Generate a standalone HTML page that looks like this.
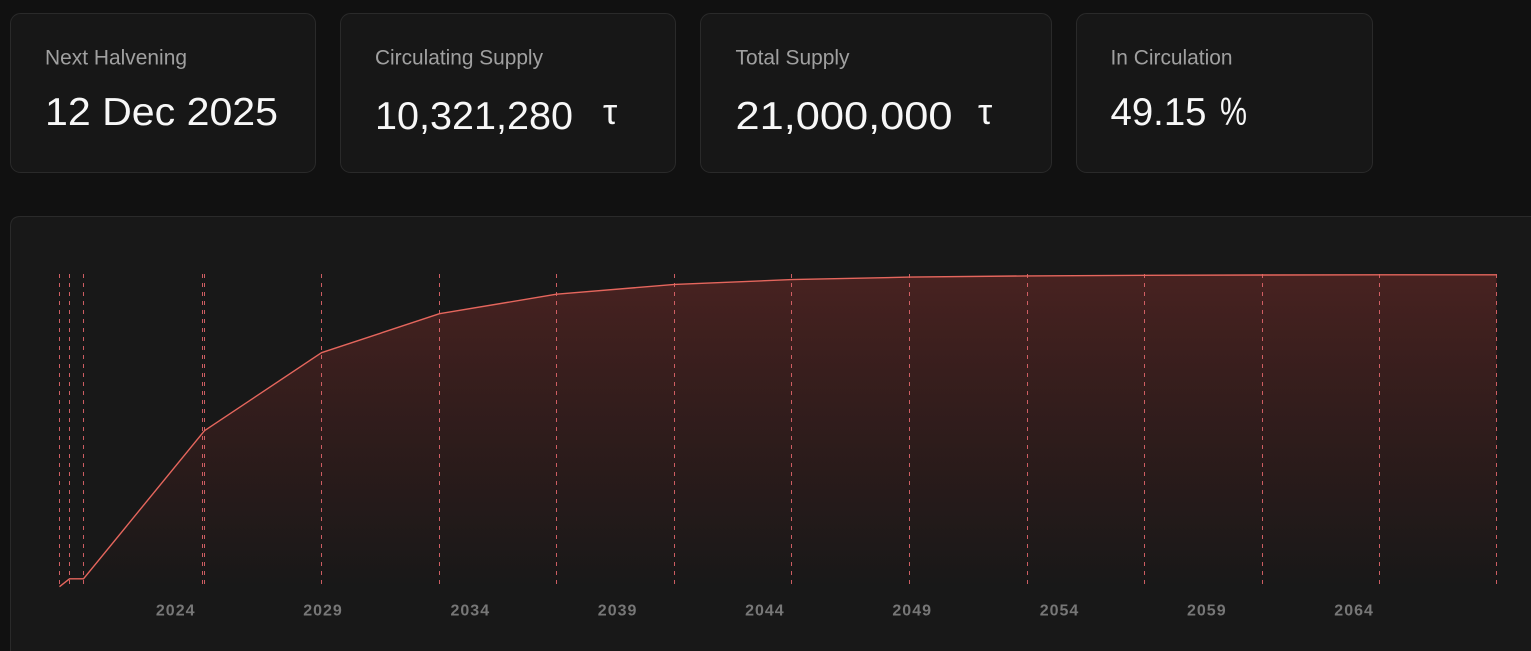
<!DOCTYPE html>
<html>
<head>
<meta charset="utf-8">
<style>
  html,body{margin:0;padding:0;background:#111111;overflow:hidden;width:1531px;height:651px;}
  svg{display:block;overflow:hidden;}
  .lbl{font-family:"Liberation Sans",sans-serif;font-size:21px;fill:#a0a0a0;}
  .val{font-family:"Liberation Sans",sans-serif;font-size:39px;fill:#f7f7f7;}
  .tau{font-family:"Liberation Sans","DejaVu Sans",sans-serif;font-size:36px;fill:#f7f7f7;}
  .tick{font-family:"Liberation Sans",sans-serif;font-size:16px;font-weight:bold;fill:#777777;letter-spacing:1px;}
</style>
</head>
<body>
<svg width="1531" height="651" viewBox="0 0 1531 651" xmlns="http://www.w3.org/2000/svg">
  <defs>
    <linearGradient id="fillg" x1="0" y1="274" x2="0" y2="587" gradientUnits="userSpaceOnUse">
      <stop offset="0" stop-color="#b83a34" stop-opacity="0.30"/>
      <stop offset="0.6" stop-color="#a8302c" stop-opacity="0.13"/>
      <stop offset="1" stop-color="#a8302c" stop-opacity="0.0"/>
    </linearGradient>
    <clipPath id="frame"><rect x="0" y="0" width="1531" height="651"/></clipPath>
  </defs>
  <rect x="0" y="0" width="1531" height="651" fill="#111111"/>

  <!-- stat cards -->
  <rect x="10.5" y="13.5" width="305" height="159" rx="10" fill="#171717" stroke="#2a2a2a"/>
  <rect x="340.5" y="13.5" width="335" height="159" rx="10" fill="#171717" stroke="#2a2a2a"/>
  <rect x="700.5" y="13.5" width="351" height="159" rx="10" fill="#171717" stroke="#2a2a2a"/>
  <rect x="1076.5" y="13.5" width="296" height="159" rx="10" fill="#171717" stroke="#2a2a2a"/>

  <text class="lbl" x="45" y="64.5" textLength="142" lengthAdjust="spacingAndGlyphs">Next Halvening</text>
  <text class="val" x="45" y="125" textLength="233" lengthAdjust="spacingAndGlyphs">12 Dec 2025</text>

  <text class="lbl" x="375" y="64.5" textLength="168" lengthAdjust="spacingAndGlyphs">Circulating Supply</text>
  <text class="val" x="375" y="129" textLength="198" lengthAdjust="spacingAndGlyphs">10,321,280</text>
  <text class="tau" x="603" y="124">τ</text>

  <text class="lbl" x="735.5" y="64.5" textLength="114" lengthAdjust="spacingAndGlyphs">Total Supply</text>
  <text class="val" x="735.5" y="129" textLength="217" lengthAdjust="spacingAndGlyphs">21,000,000</text>
  <text class="tau" x="978" y="124">τ</text>

  <text class="lbl" x="1110.5" y="64.5" textLength="122" lengthAdjust="spacingAndGlyphs">In Circulation</text>
  <text class="val" x="1110.5" y="125" textLength="96" lengthAdjust="spacingAndGlyphs">49.15</text>
  <text class="val" x="1220" y="125" textLength="27" lengthAdjust="spacingAndGlyphs">%</text>

  <!-- chart card (clipped to frame) -->
  <g clip-path="url(#frame)">
    <path d="M10.5,651 L10.5,226.5 Q10.5,216.5 20.5,216.5 L1531,216.5 L1531,651 Z" fill="#181818"/>
    <path d="M10.5,651 L10.5,226.5 Q10.5,216.5 20.5,216.5 L1531,216.5" fill="none" stroke="#2a2a2a"/>
  </g>

  <!-- area fill -->
  <polygon fill="url(#fillg)" points="59.5,586.7 69.5,578.8 83.5,578.8 204.5,430.7 321.5,352.7 439.5,313.7 556.5,294.2 674.5,284.45 791.5,279.6 909.5,277.1 1027.5,275.9 1144.5,275.3 1262.5,275.0 1379.5,274.85 1496.5,274.78 1496.5,586.7"/>

  <!-- dashed halving lines -->
  <g stroke="#e0656a" stroke-width="1" stroke-dasharray="4 5" stroke-opacity="0.9" fill="none">
    <line x1="59.5" y1="274" x2="59.5" y2="587"/>
    <line x1="69.5" y1="274" x2="69.5" y2="587"/>
    <line x1="83.5" y1="274" x2="83.5" y2="587"/>
    <line x1="202.5" y1="274" x2="202.5" y2="587"/>
    <line x1="204.5" y1="274" x2="204.5" y2="587"/>
    <line x1="321.5" y1="274" x2="321.5" y2="587"/>
    <line x1="439.5" y1="274" x2="439.5" y2="587"/>
    <line x1="556.5" y1="274" x2="556.5" y2="587"/>
    <line x1="674.5" y1="274" x2="674.5" y2="587"/>
    <line x1="791.5" y1="274" x2="791.5" y2="587"/>
    <line x1="909.5" y1="274" x2="909.5" y2="587"/>
    <line x1="1027.5" y1="274" x2="1027.5" y2="587"/>
    <line x1="1144.5" y1="274" x2="1144.5" y2="587"/>
    <line x1="1262.5" y1="274" x2="1262.5" y2="587"/>
    <line x1="1379.5" y1="274" x2="1379.5" y2="587"/>
    <line x1="1496.5" y1="274" x2="1496.5" y2="587"/>
  </g>

  <!-- supply line -->
  <polyline fill="none" stroke="#e5665d" stroke-width="1.4" stroke-linejoin="round" points="59.5,586.7 69.5,578.8 83.5,578.8 204.5,430.7 321.5,352.7 439.5,313.7 556.5,294.2 674.5,284.45 791.5,279.6 909.5,277.1 1027.5,275.9 1144.5,275.3 1262.5,275.0 1379.5,274.85 1496.5,274.78"/>

  <!-- x ticks -->
  <g class="tick" text-anchor="middle">
    <text x="175.7" y="615.5">2024</text>
    <text x="323" y="615.5">2029</text>
    <text x="470.3" y="615.5">2034</text>
    <text x="617.6" y="615.5">2039</text>
    <text x="764.9" y="615.5">2044</text>
    <text x="912.2" y="615.5">2049</text>
    <text x="1059.5" y="615.5">2054</text>
    <text x="1206.8" y="615.5">2059</text>
    <text x="1354.1" y="615.5">2064</text>
  </g>
</svg>
</body>
</html>
